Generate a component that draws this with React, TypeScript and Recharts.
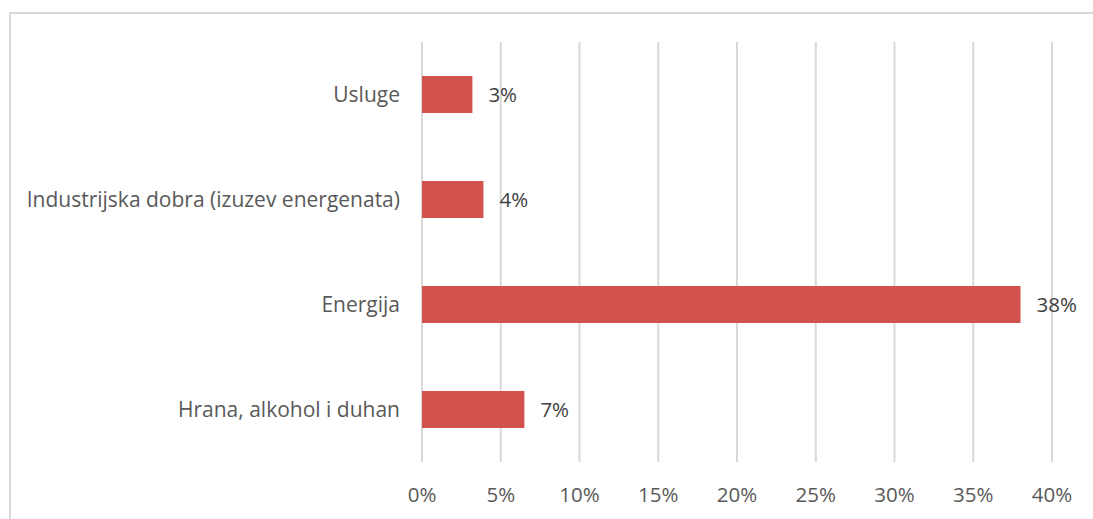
import React from 'react';
import { BarChart, Bar, XAxis, YAxis, CartesianGrid, LabelList } from 'recharts';

const categories = ['Usluge', 'Industrijska dobra (izuzev energenata)', 'Energija', 'Hrana, alkohol i duhan'];
const shares = [3.2, 3.9, 38.0, 6.5];
const xTicks = [0, 5, 10, 15, 20, 25, 30, 35, 40];

const data = categories.map((name, i) => ({ name, value: shares[i] }));

const FONT = '"Open Sans", Lato, sans-serif';

export default function App() {
  return (
    <div style={{ position: 'absolute', left: 0, top: 0, width: 1093, height: 519, overflow: 'hidden', background: '#fff', fontFamily: FONT }}>
      <div style={{ position: 'absolute', left: 9, top: 12, width: 1100, height: 520, border: '2px solid #d9d9d9', boxSizing: 'border-box' }} />
      <div style={{ position: 'absolute', left: 0, top: 0 }}>
        <BarChart
          width={1093}
          height={519}
          data={data}
          layout="vertical"
          margin={{ top: 42, right: 41, bottom: 0, left: 0 }}
          barSize={37}
        >
          <CartesianGrid horizontal={false} stroke="#d9d9d9" strokeWidth={2} />
          <XAxis
            type="number"
            domain={[0, 40]}
            ticks={xTicks}
            tickFormatter={(v) => `${v}%`}
            axisLine={false}
            tickLine={false}
            tickSize={0}
            tickMargin={25}
            height={57}
            tick={{ fill: '#595959', fontSize: 20.5, fontFamily: FONT }}
          />
          <YAxis
            type="category"
            dataKey="name"
            width={422}
            axisLine={false}
            tickLine={false}
            tickSize={0}
            tickMargin={22}
            tick={{ fill: '#595959', fontSize: 21, fontFamily: FONT }}
          />
          <Bar dataKey="value" fill="#d4524e" isAnimationActive={false}>
            <LabelList
              dataKey="value"
              position="right"
              offset={16}
              formatter={(v: any) => `${Math.round(Number(v))}%`}
              fill="#404040"
              fontSize={20.5}
              fontFamily={FONT}
            />
          </Bar>
        </BarChart>
      </div>
    </div>
  );
}
